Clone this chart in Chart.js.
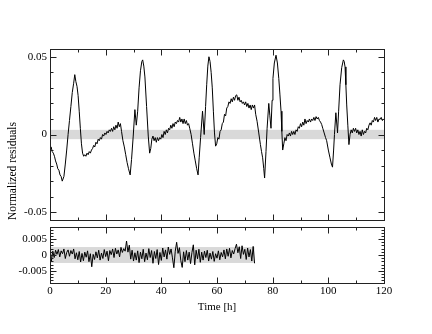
<!DOCTYPE html>
<html lang="en">
<head>
<meta charset="UTF-8">
<title>Normalized residuals</title>
<script src="https://cdn.jsdelivr.net/npm/chart.js@4.4.0/dist/chart.umd.min.js"></script>
<style>
  body { margin: 0; background: #fff; }
  #wrap { position: relative; width: 432px; height: 334px; }
  #wrap canvas { position: absolute; left: 0; top: 0; }
</style>
</head>
<body>
<div id="wrap">
  <canvas id="upper" width="432" height="334"></canvas>
  <canvas id="lower" width="432" height="334"></canvas>
</div>
<script>
// upper panel: residuals over the whole run (hours, value)
const upperHours = [
  0, 0.4, 0.8, 1.2, 1.6, 2.0, 2.4, 2.8, 3.2, 3.6, 4.0, 4.4,
  5.0, 5.5, 6.0, 6.5, 7.0, 7.5, 8.0, 8.5, 8.9, 9.3, 9.7, 10.1, 10.5, 10.9, 11.3, 11.7, 12.1,
  12.5, 12.9, 13.3, 13.7, 14.1, 14.5, 14.9, 15.3, 15.7, 16.1, 16.5, 16.9, 17.3, 17.7, 18.1, 18.5, 18.9,
  19.3, 19.7, 20.1, 20.5, 20.9, 21.3, 21.7, 22.1, 22.5, 22.9, 23.3, 23.7, 24.1, 24.5, 24.9, 25.3, 25.7,
  26.2, 26.7, 27.2, 27.7, 28.2, 28.8, 29.3, 29.9, 30.5, 31.0, 31.5, 32.0, 32.5, 33.0, 33.3, 33.7, 34.1, 34.7, 35.3, 35.8,
  36.2, 36.6, 37.0, 37.4, 37.8, 38.2, 38.6, 39.0, 39.4, 39.8, 40.2, 40.6, 41.0, 41.4, 41.8, 42.2, 42.6, 43.0,
  43.4, 43.8, 44.2, 44.6, 45.0, 45.4, 45.8, 46.2, 46.6, 47.0, 47.4, 47.8, 48.2, 48.6, 49.0, 49.4, 49.8, 50.2,
  50.7, 51.2, 51.7, 52.2, 52.7, 53.2, 53.6, 54.1, 54.8, 55.4, 55.9, 56.3, 56.7, 57.1, 57.5, 57.9, 58.3, 58.7, 59.1, 59.5,
  59.9, 60.3, 60.7, 61.1, 61.5, 61.9, 62.3, 62.7, 63.1, 63.5, 63.9, 64.3, 64.7, 65.1, 65.5, 65.9, 66.3, 66.7,
  67.1, 67.5, 67.9, 68.3, 68.7, 69.1, 69.5, 69.9, 70.3, 70.7, 71.1, 71.5, 71.9, 72.3, 72.7, 73.1, 73.5, 73.9,
  74.4, 75.0, 75.6, 76.0, 76.4, 76.8, 77.1, 77.6, 78.0, 78.6, 79.0, 79.4, 79.8, 80.1, 80.6, 81.2, 81.7, 82.2, 82.6, 83.0, 83.3, 83.6,
  84.0, 84.4, 84.8, 85.2, 85.6, 86.0, 86.4, 86.8, 87.2, 87.6, 88.0, 88.4, 88.8, 89.2, 89.6, 90.0, 90.4, 90.8,
  91.2, 91.6, 92.0, 92.4, 92.8, 93.2, 93.6, 94.0, 94.4, 94.8, 95.2, 95.6, 96.0, 96.4, 96.8, 97.2, 97.6, 98.0,
  98.5, 99.0, 99.4, 100.0, 100.6, 101.1, 101.5, 101.9, 102.2, 102.7, 103.3, 103.7, 104.2, 104.8, 105.4, 105.7, 106.0, 106.3, 106.6, 107.0, 107.4,
  107.8, 108.2, 108.6, 109.0, 109.4, 109.8, 110.2, 110.6, 111.0, 111.4, 111.8, 112.2, 112.6, 113.0, 113.4,
  113.8, 114.2, 114.6, 115.0, 115.4, 115.8, 116.2, 116.6, 117.0, 117.4, 117.8, 118.2, 118.6, 119.0, 119.4, 120.0
];
const upperResiduals = [
  -0.009, -0.008, -0.011, -0.012, -0.014, -0.017, -0.019, -0.022, -0.023, -0.026, -0.027, -0.030,
  -0.027, -0.019, -0.010, 0.000, 0.009, 0.018, 0.027, 0.033, 0.0385, 0.034, 0.031, 0.025, 0.015, 0.004, -0.006, -0.012, -0.014,
  -0.013, -0.014, -0.012, -0.013, -0.011, -0.012, -0.010, -0.009, -0.007, -0.008, -0.005, -0.006, -0.003, -0.004, -0.002, -0.003, 0.000,
  -0.001, 0.001, 0.000, 0.002, 0.001, 0.003, 0.002, 0.004, 0.002, 0.005, 0.003, 0.006, 0.004, 0.008, 0.005, 0.007, 0.002,
  -0.004, -0.008, -0.013, -0.018, -0.022, -0.026, -0.016, -0.001, 0.016, 0.006, 0.015, 0.030, 0.041, 0.047, 0.048, 0.044, 0.037, 0.018, -0.001, -0.012,
  -0.009, -0.003, -0.001, -0.004, -0.002, -0.005, -0.002, -0.004, -0.002, -0.003, 0.000, -0.002, 0.002, 0.000, 0.003, 0.001, 0.004, 0.003,
  0.006, 0.004, 0.007, 0.005, 0.008, 0.007, 0.009, 0.008, 0.011, 0.008, 0.010, 0.007, 0.010, 0.007, 0.009, 0.006, 0.007, 0.004,
  0.000, -0.006, -0.012, -0.017, -0.022, -0.026, -0.015, -0.002, 0.015, 0.000, 0.018, 0.032, 0.044, 0.050, 0.047, 0.040, 0.030, 0.015, 0.001, -0.0075,
  -0.006, -0.002, -0.003, 0.002, 0.003, 0.007, 0.008, 0.013, 0.012, 0.017, 0.018, 0.021, 0.020, 0.023, 0.021, 0.024, 0.022, 0.025,
  0.0255, 0.022, 0.024, 0.021, 0.022, 0.020, 0.021, 0.019, 0.021, 0.018, 0.020, 0.017, 0.019, 0.016, 0.019, 0.017, 0.019, 0.013,
  0.0085, 0.001, -0.0065, -0.011, -0.015, -0.022, -0.028, -0.011, 0.004, 0.020, 0.012, 0.004, 0.022, 0.036, 0.046, 0.051, 0.046, 0.036, 0.026, 0.015, 0.002, -0.010,
  -0.006, -0.002, -0.004, 0.000, -0.001, 0.001, -0.001, 0.002, 0.000, 0.002, 0.000, 0.003, 0.002, 0.005, 0.004, 0.007, 0.005, 0.008,
  0.006, 0.010, 0.007, 0.009, 0.008, 0.010, 0.008, 0.010, 0.009, 0.011, 0.009, 0.0115, 0.010, 0.011, 0.009, 0.008, 0.0065, 0.004,
  0.001, -0.002, -0.004, -0.010, -0.015, -0.019, -0.021, -0.010, 0.000, 0.014, 0.001, 0.015, 0.032, 0.043, 0.048, 0.047, 0.0435, 0.032, 0.019, 0.006, -0.0065,
  0.000, 0.003, 0.001, 0.004, 0.002, 0.004, 0.001, 0.003, 0.000, 0.002, -0.001, 0.003, 0.000, 0.002, 0.001,
  0.004, 0.003, 0.006, 0.0075, 0.006, 0.009, 0.008, 0.011, 0.009, 0.011, 0.008, 0.010, 0.0097, 0.011, 0.009, 0.010
];

// lower panel: residuals of the first ~73 h
const lowerHours = [
  0, 0.5, 1, 1.5, 2, 2.5, 3, 3.5, 4, 4.5,
  5, 5.5, 6, 6.5, 7, 7.5, 8, 8.5, 9, 9.5,
  10, 10.5, 11, 11.5, 12, 12.5, 13, 13.5, 14, 14.5,
  15, 15.5, 16, 16.5, 17, 17.5, 18, 18.5, 19, 19.5,
  20, 20.5, 21, 21.5, 22, 22.5, 23, 23.5, 24, 24.5,
  25, 25.5, 26, 26.5, 27, 27.5, 28, 28.5, 29, 29.5,
  30, 30.5, 31, 31.5, 32, 32.5, 33, 33.5, 34, 34.5,
  35, 35.5, 36, 36.5, 37, 37.5, 38, 38.5, 39, 39.5,
  40, 40.5, 41, 41.5, 42, 42.5, 43, 43.5, 44, 44.5,
  45, 45.5, 46, 46.5, 47, 47.5, 48, 48.5, 49, 49.5,
  50, 50.5, 51, 51.5, 52, 52.5, 53, 53.5, 54, 54.5,
  55, 55.5, 56, 56.5, 57, 57.5, 58, 58.5, 59, 59.5,
  60, 60.5, 61, 61.5, 62, 62.5, 63, 63.5, 64, 64.5,
  65, 65.5, 66, 66.5, 67, 67.5, 68, 68.5, 69, 69.5,
  70, 70.5, 71, 71.5, 72, 72.5, 73, 73.5
];
const lowerResiduals = [
  0.0018, -0.0019, 0.0012, -0.0008, 0.0015, 0.0002, 0.0017, -0.0006, 0.0013, 0.0004,
  0.0019, -0.0011, 0.0008, 0.0016, -0.0004, 0.0014, 0.0003, 0.0019, -0.0012, 0.0007,
  -0.0015, 0.0011, -0.0022, 0.0005, -0.0018, 0.0009, -0.0007, 0.0013, -0.0021, 0.0004,
  -0.0037, 0.0002, -0.0014, 0.0010, -0.0009, 0.0015, -0.0016, 0.0006, -0.0011, 0.0017,
  -0.0005, 0.0012, -0.0018, 0.0014, 0.0001, 0.0019, -0.0008, 0.0021, 0.0003, 0.0016,
  -0.0006, 0.0024, 0.0008, 0.0020, 0.0012, 0.0044, 0.0009, 0.0031, -0.0013, 0.0015,
  -0.0019, 0.0007, -0.0016, 0.0013, -0.0024, 0.0009, -0.0012, 0.0018, -0.0021, 0.0006,
  -0.0015, 0.0020, -0.0008, 0.0014, -0.0026, 0.0011, -0.0011, 0.0017, -0.0030, 0.0008,
  -0.0017, 0.0022, -0.0006, 0.0016, -0.0013, 0.0025, 0.0002, 0.0019, -0.0009, -0.0040,
  0.0012, 0.0040, 0.0005, 0.0023, -0.0018, -0.0039, 0.0010, -0.0021, 0.0014, -0.0016,
  0.0009, -0.0027, 0.0008, 0.0032, -0.0031, 0.0015, -0.0012, 0.0018, -0.0023, 0.0009,
  -0.0016, 0.0012, -0.0008, 0.0015, -0.0019, 0.0006, -0.0013, 0.0011, -0.0020, 0.0004,
  -0.0010, 0.0013, -0.0015, 0.0008, -0.0006, 0.0016, -0.0012, 0.0019, -0.0004, 0.0021,
  -0.0009, 0.0014, 0.0003, 0.0020, 0.0034, 0.0007, 0.0026, -0.0011, 0.0029, 0.0002,
  0.0018, -0.0014, 0.0022, -0.0006, 0.0017, -0.0019, 0.0027, -0.0026
];

// axis ticks
const hourTicks = [0, 20, 40, 60, 80, 100, 120];
const hourTickLabels = ['0', '20', '40', '60', '80', '100', '120'];
const hourMinorTicks = [10, 30, 50, 70, 90, 110];
const upperTicks = [-0.05, 0, 0.05];
const upperTickLabels = ['-0.05', '0', '0.05'];
const upperMinorTicks = [-0.04, -0.03, -0.02, -0.01, 0.01, 0.02, 0.03, 0.04];
const lowerTicks = [-0.005, 0, 0.005];
const lowerTickLabels = ['-0.005', '0', '0.005'];
const lowerMinorTicks = [-0.008, -0.007, -0.006, -0.004, -0.003, -0.002, -0.001,
  0.001, 0.002, 0.003, 0.004, 0.006, 0.007, 0.008];

// tolerance bands (grey)
const upperBand = [-0.003, 0.003];
const lowerBand = [-0.0025, 0.0025];

const serifFamily = "'Liberation Serif', 'Times New Roman', serif";

// grey band behind the line, boxed frame with inward ticks on all four sides
const panelFrame = {
  id: 'panelFrame',
  beforeDatasetsDraw(chart, args, opts) {
    const { ctx, chartArea: a, scales: { x, y } } = chart;
    const left = opts.bandFrom == null ? a.left : x.getPixelForValue(opts.bandFrom);
    const right = opts.bandTo == null ? a.right : x.getPixelForValue(opts.bandTo);
    const top = y.getPixelForValue(opts.band[1]);
    const bottom = y.getPixelForValue(opts.band[0]);
    ctx.save();
    ctx.fillStyle = '#d9d9d9';
    ctx.fillRect(left, top, right - left, bottom - top);
    ctx.restore();
  },
  afterDraw(chart, args, opts) {
    const { ctx, chartArea: a, scales: { x, y } } = chart;
    const L = Math.round(a.left) + 0.5, R = Math.round(a.right) + 0.5;
    const T = Math.round(a.top) + 0.5, B = Math.round(a.bottom) + 0.5;
    ctx.save();
    ctx.strokeStyle = '#222';
    ctx.lineWidth = 1;
    ctx.strokeRect(L, T, R - L, B - T);
    ctx.beginPath();
    const xTick = (v, len) => {
      const px = Math.round(x.getPixelForValue(v)) + 0.5;
      ctx.moveTo(px, T); ctx.lineTo(px, T + len);
      ctx.moveTo(px, B); ctx.lineTo(px, B - len);
    };
    const yTick = (v, len) => {
      const py = Math.round(y.getPixelForValue(v)) + 0.5;
      ctx.moveTo(L, py); ctx.lineTo(L + len, py);
      ctx.moveTo(R, py); ctx.lineTo(R - len, py);
    };
    opts.xMajor.forEach(v => xTick(v, 6));
    opts.xMinor.forEach(v => xTick(v, 3));
    opts.yMajor.forEach(v => yTick(v, 6));
    opts.yMinor.forEach(v => yTick(v, 3));
    ctx.stroke();
    ctx.restore();
  }
};

function lineSet(hours, values) {
  return {
    data: hours.map((h, i) => ({ x: h, y: values[i] })),
    borderColor: '#000',
    borderWidth: 1,
    pointRadius: 0,
    tension: 0
  };
}

function yAxis(min, max, ticks, labels) {
  return {
    min, max,
    afterFit: s => { s.width = 50; },
    afterBuildTicks: s => { s.ticks = ticks.map(v => ({ value: v })); },
    grid: { display: false, drawTicks: false },
    border: { display: false },
    ticks: { autoSkip: false, padding: 3, color: '#000', font: { family: serifFamily, size: 11 },
      callback: (v, i) => labels[i] }
  };
}

const upperY = yAxis(-0.055, 0.055, upperTicks, upperTickLabels);
upperY.title = { display: true, text: 'Normalized residuals', align: 'start', color: '#000',
  font: { family: serifFamily, size: 11.5 }, padding: { top: 6, bottom: 0 } };

new Chart(document.getElementById('upper'), {
  type: 'line',
  data: { datasets: [lineSet(upperHours, upperResiduals)] },
  options: {
    responsive: false,
    animation: false,
    layout: { padding: { left: 0, right: 48, top: 49, bottom: 114 } },
    plugins: {
      legend: { display: false },
      tooltip: { enabled: false },
      panelFrame: { band: upperBand, xMajor: hourTicks, xMinor: hourMinorTicks,
        yMajor: upperTicks, yMinor: upperMinorTicks }
    },
    scales: {
      x: { type: 'linear', min: 0, max: 120, display: false },
      y: upperY
    }
  },
  plugins: [panelFrame]
});

new Chart(document.getElementById('lower'), {
  type: 'line',
  data: { datasets: [lineSet(lowerHours, lowerResiduals)] },
  options: {
    responsive: false,
    animation: false,
    layout: { padding: { left: 0, right: 48, top: 227, bottom: 11 } },
    plugins: {
      legend: { display: false },
      tooltip: { enabled: false },
      panelFrame: { band: lowerBand, bandFrom: lowerHours[0], bandTo: lowerHours[lowerHours.length - 1],
        xMajor: hourTicks, xMinor: hourMinorTicks, yMajor: lowerTicks, yMinor: lowerMinorTicks }
    },
    scales: {
      x: {
        type: 'linear', min: 0, max: 120,
        afterFit: s => { s.height = 40; },
        afterBuildTicks: s => { s.ticks = hourTicks.map(v => ({ value: v })); },
        grid: { display: false, drawTicks: false },
        border: { display: false },
        ticks: { autoSkip: false, maxRotation: 0, padding: 2, color: '#000',
          font: { family: serifFamily, size: 11 }, callback: (v, i) => hourTickLabels[i] },
        title: { display: true, text: 'Time [h]', color: '#000',
          font: { family: serifFamily, size: 11 }, padding: { top: 0, bottom: 9 } }
      },
      y: yAxis(-0.0088, 0.0088, lowerTicks, lowerTickLabels)
    }
  },
  plugins: [panelFrame]
});
</script>
</body>
</html>
